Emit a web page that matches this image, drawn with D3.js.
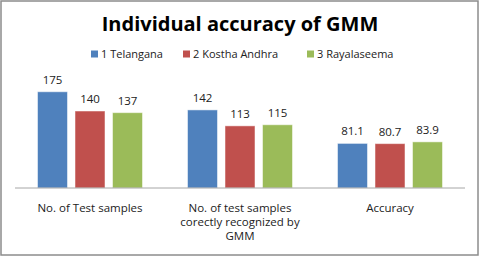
<!DOCTYPE html>
<html>
<head>
<meta charset="utf-8">
<script src="https://cdn.jsdelivr.net/npm/d3@7"></script>
<style>
  body { margin: 0; background: #fff; }
  svg { display: block; font-family: "Open Sans", "DejaVu Sans", sans-serif; }
</style>
</head>
<body>
<svg id="chart" width="480" height="257"></svg>
<script>
// chart data
const categories = [
  ["No. of Test samples"],
  ["No. of test samples", "corectly recognized by", "GMM"],
  ["Accuracy"]
];
const seriesNames = ["1 Telangana", "2 Kostha Andhra", "3 Rayalaseema"];
const seriesColors = ["#4F81BD", "#C0504D", "#9BBB59"];
const telangana = [175, 142, 81.1];
const kosthaAndhra = [140, 113, 80.7];
const rayalaseema = [137, 115, 83.9];
const valueLabels = [
  ["175", "142", "81.1"],
  ["140", "113", "80.7"],
  ["137", "115", "83.9"]
];

const series = [telangana, kosthaAndhra, rayalaseema];

const svg = d3.select("#chart");

// frame
svg.append("rect")
  .attr("x", 1).attr("y", 1)
  .attr("width", 477).attr("height", 254)
  .attr("fill", "#fff")
  .attr("stroke", "#8c8c8c")
  .attr("stroke-width", 1.5);

svg.append("text")
  .attr("x", 240).attr("y", 31)
  .attr("text-anchor", "middle")
  .attr("font-size", 20)
  .attr("font-weight", "bold")
  .attr("fill", "#000")
  .text("Individual accuracy of GMM");

// legend
const legendX = [91, 183, 307];
const legend = svg.append("g");
seriesNames.forEach((name, i) => {
  const g = legend.append("g").attr("transform", `translate(${legendX[i]},54)`);
  g.append("rect")
    .attr("x", 0).attr("y", -3.5)
    .attr("width", 7).attr("height", 7)
    .attr("fill", seriesColors[i]);
  g.append("text")
    .attr("x", 10).attr("y", 4)
    .attr("font-size", 11)
    .attr("fill", "#222")
    .text(name);
});

const x = d3.scaleBand()
  .domain(d3.range(categories.length))
  .range([15, 465]);

const xs = d3.scaleBand()
  .domain(d3.range(series.length))
  .range([0, x.bandwidth()])
  .paddingInner(0.2)
  .paddingOuter(0.6);

const y = d3.scaleLinear()
  .domain([0, 200])
  .range([188, 78]);

const groups = svg.append("g")
  .selectAll("g")
  .data(series)
  .join("g")
    .attr("fill", (d, i) => seriesColors[i]);

groups.each(function(values, si) {
  const g = d3.select(this);
  g.selectAll("rect")
    .data(values)
    .join("rect")
      .attr("x", (d, ci) => x(ci) + xs(si))
      .attr("y", d => y(d))
      .attr("width", xs.bandwidth())
      .attr("height", d => y(0) - y(d))
      .attr("stroke", "#fff")
      .attr("stroke-opacity", 0.5)
      .attr("stroke-width", 1);
  g.selectAll("text")
    .data(values)
    .join("text")
      .attr("x", (d, ci) => x(ci) + xs(si) + xs.bandwidth() / 2)
      .attr("y", d => y(d) - 8)
      .attr("text-anchor", "middle")
      .attr("font-size", 11.5)
      .attr("fill", "#222")
      .text((d, ci) => valueLabels[si][ci]);
});

// axis line
svg.append("line")
  .attr("x1", 15).attr("x2", 465)
  .attr("y1", y(0)).attr("y2", y(0))
  .attr("stroke", "#a6a6a6")
  .attr("stroke-width", 1);

// category labels
categories.forEach((lines, ci) => {
  const t = svg.append("text")
    .attr("text-anchor", "middle")
    .attr("font-size", 11.5)
    .attr("fill", "#222");
  lines.forEach((line, li) => {
    t.append("tspan")
      .attr("x", x(ci) + x.bandwidth() / 2)
      .attr("y", 212 + li * 14)
      .text(line);
  });
});
</script>
</body>
</html>
